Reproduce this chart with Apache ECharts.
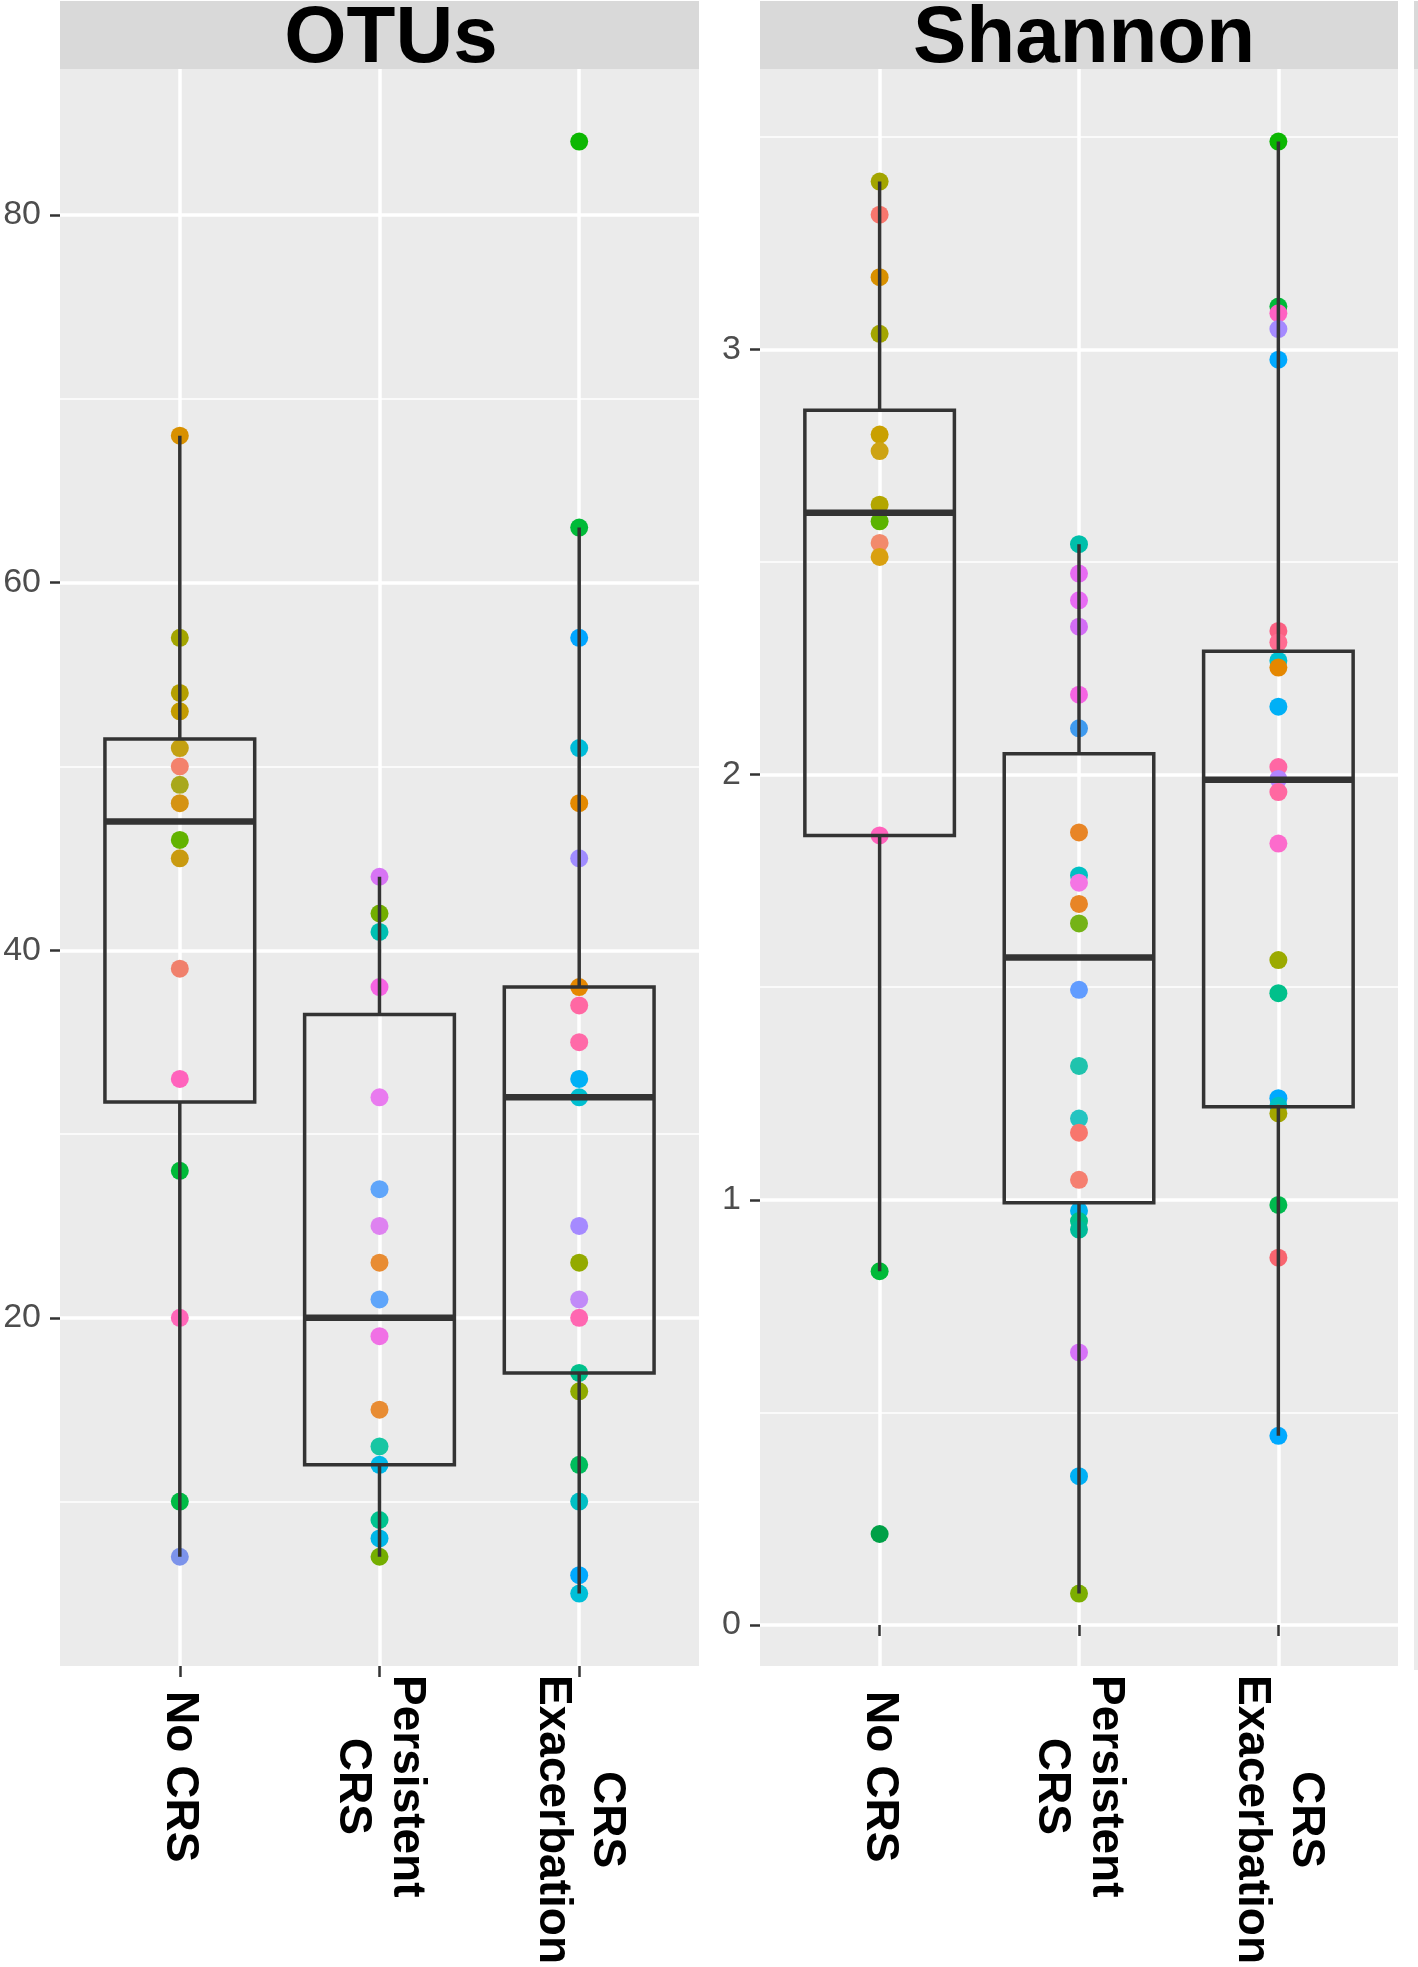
<!DOCTYPE html>
<html><head><meta charset="utf-8">
<script src="https://cdn.jsdelivr.net/npm/echarts@6/dist/echarts.min.js"></script>
<style>html,body{margin:0;padding:0;background:#fff}#chart{width:1418px;height:1967px}</style>
</head><body><div id="chart"></div>
<script>
// ---------- data ----------
const categories = ['No CRS', 'Persistent CRS', 'CRS Exacerbation'];
const categoryLabels = ['No CRS', 'Persistent\nCRS', 'CRS\nExacerbation'];
const panelTitles = ['OTUs', 'Shannon'];

const otusTicks = [20, 40, 60, 80];
const otusMinorTicks = [10, 30, 50, 70];
const shannonTicks = [0, 1, 2, 3];
const shannonMinorTicks = [0.5, 1.5, 2.5, 3.5];

const otusNoCRS = [68, 57, 54, 53, 51, 50, 49, 48, 46, 45, 39, 33, 28, 20, 10, 7];
const otusNoCRSColors = ['#D89000','#A3A500','#B49F00','#C39B00','#C3A012','#F3826C','#A8A81C','#D59312','#62B300','#C99A10','#F0806C','#FF62BC','#00BA38','#FF66B8','#00BB45','#7C93EA'];
const otusPersistent = [44, 42, 41, 38, 32, 27, 25, 23, 21, 19, 15, 13, 12, 9, 8, 7];
const otusPersistentColors = ['#D774F4','#72AE00','#00BFB2','#F564E3','#E97BEF','#5FA5FA','#DE82F0','#E88C33','#5FA5FA','#F070E5','#E88C33','#18C6A3','#00B8E8','#00C38F','#00B6E8','#74AE00'];
const otusExacerbation = [84, 63, 57, 51, 48, 45, 38, 37, 35, 33, 32, 25, 23, 21, 20, 17, 16, 12, 10, 6, 5];
const otusExacerbationColors = ['#0CB702','#00BA38','#00A5FF','#00BCD8','#E38900','#A08CFF','#E58700','#FF68A3','#FF6AA8','#00B0F6','#00BFD0','#A58AFF','#93AA00','#C18AF8','#FF67B1','#00C08B','#8FAA00','#00BD5C','#00BFC4','#00A9FF','#00BFD8'];

const shannonNoCRS = [3.395, 3.317, 3.170, 3.037, 2.800, 2.761, 2.635, 2.596, 2.545, 2.512, 1.857, 0.832, 0.214];
const shannonNoCRSColors = ['#A3A500','#F8766D','#D89000','#A3A500','#C9A000','#CDA314','#B3A600','#5BB300','#F28A6C','#D9A010','#FF62BC','#00BA38','#00A047'];
const shannonPersistent = [2.542, 2.473, 2.410, 2.348, 2.188, 2.109, 1.864, 1.763, 1.746, 1.696, 1.650, 1.494, 1.315, 1.191, 1.158, 1.047, 0.974, 0.950, 0.930, 0.641, 0.350, 0.074];
const shannonPersistentColors = ['#00BFAA','#E76BF3','#E76BF3','#D36DF5','#F564E3','#3F9AEE','#E88526','#00C0C4','#F475E4','#E88526','#74B316','#619CFF','#20C3AD','#23C4C1','#F8766D','#F57F70','#00B4EF','#00C08B','#00BB99','#D773F8','#00B0F6','#7CAE00'];
const shannonExacerbation = [3.489, 3.101, 3.085, 3.048, 2.976, 2.338, 2.311, 2.268, 2.252, 2.160, 2.018, 1.990, 1.959, 1.838, 1.564, 1.486, 1.239, 1.221, 1.203, 0.988, 0.864, 0.445];
const shannonExacerbationColors = ['#0CB702','#00BA38','#FF61C3','#A58AFF','#00A9FF','#FB6183','#FF6C91','#00C1D3','#E58700','#00B0F6','#FF67A4','#B385FF','#FF68A1','#FC6BCC','#9BAA00','#00C08B','#00A9FF','#00BFC4','#A3A500','#00BB4E','#F8656F','#00A9FF'];

// box stats: [lower whisker, Q1, median, Q3, upper whisker]
const otusBoxNoCRS = [7, 31.75, 47, 51.5, 68];
const otusBoxPersistent = [7, 12, 20, 36.5, 44];
const otusBoxExacerbation = [5, 17, 32, 38, 63];
const shannonBoxNoCRS = [0.832, 1.857, 2.616, 2.857, 3.395];
const shannonBoxPersistent = [0.074, 0.993, 1.570, 2.049, 2.542];
const shannonBoxExacerbation = [0.445, 1.219, 1.988, 2.290, 3.489];

// ---------- build ----------
const FONT = "'Liberation Sans', Arial, Helvetica, sans-serif";
const panels = [
  { title: panelTitles[0], left: 60, width: 639, ticks: otusTicks, minor: otusMinorTicks,
    groups: [[otusNoCRS, otusNoCRSColors], [otusPersistent, otusPersistentColors], [otusExacerbation, otusExacerbationColors]],
    boxes: [otusBoxNoCRS, otusBoxPersistent, otusBoxExacerbation], titleX: 391 },
  { title: panelTitles[1], left: 760, width: 638, ticks: shannonTicks, minor: shannonMinorTicks,
    groups: [[shannonNoCRS, shannonNoCRSColors], [shannonPersistent, shannonPersistentColors], [shannonExacerbation, shannonExacerbationColors]],
    boxes: [shannonBoxNoCRS, shannonBoxPersistent, shannonBoxExacerbation], titleX: 1084 }
];
const TOP = 69, HEIGHT = 1601;

const grid = [], xAxis = [], yAxis = [], series = [], graphic = [];
const labelRich = {
  c: { align: 'center', color: '#000', fontSize: 46, fontWeight: 'bold', fontFamily: FONT, lineHeight: 54 },
  n: { align: 'center', color: '#000', fontSize: 46, fontWeight: 'bold', fontFamily: FONT, lineHeight: 54, padding: [0, 0, 0, 16] }
};
panels.forEach((p, i) => {
  const all = [].concat(...p.groups.map(g => g[0]));
  const lo = Math.min(...all), hi = Math.max(...all), pad = (hi - lo) * 0.05;
  grid.push({ left: p.left, top: TOP, width: p.width, height: HEIGHT, show: true,
    backgroundColor: '#EBEBEB', borderWidth: 0 });
  xAxis.push({ type: 'value', gridIndex: i, min: 0.4, max: 3.6,
    axisLine: { show: false },
    axisTick: { show: true, customValues: [1, 2, 3], length: 11, lineStyle: { color: '#333', width: 2.5 } },
    splitLine: { show: true, lineStyle: { color: '#FFFFFF', width: 3.5 } },
    axisLabel: { show: true, customValues: [1, 2, 3], rotate: -90, margin: 9,
      color: '#000', fontSize: 46, fontWeight: 'bold', fontFamily: FONT, lineHeight: 54,
      formatter: v => {
        const k = Math.round(v) - 1;
        const tag = k === 0 ? 'n' : 'c';
        return categoryLabels[k].split('\n').map(s => '{' + tag + '|' + s + '}').join('\n');
      },
      rich: labelRich }
  });
  yAxis.push({ type: 'value', gridIndex: i, min: lo - pad, max: hi + pad,
    axisLine: { show: false },
    axisTick: { show: true, customValues: p.ticks, length: 10, lineStyle: { color: '#333', width: 2.5 } },
    axisLabel: { show: true, customValues: p.ticks, margin: 19, color: '#4D4D4D', fontSize: 34, fontFamily: FONT },
    splitLine: { show: true, lineStyle: { color: '#FFFFFF', width: 3.5 } }
  });
  yAxis.push({ type: 'value', gridIndex: i, min: lo - pad, max: hi + pad,
    axisLine: { show: false },
    axisTick: { show: false, customValues: p.minor },
    axisLabel: { show: false, customValues: p.minor },
    splitLine: { show: true, lineStyle: { color: '#FFFFFF', width: 1.6 } }
  });
  const pts = [];
  p.groups.forEach((g, k) => {
    g[0].forEach((v, j) => pts.push({ value: [k + 1, v], itemStyle: { color: g[1][j] } }));
  });
  series.push({ type: 'scatter', xAxisIndex: i, yAxisIndex: 2 * i, data: pts,
    symbol: 'circle', symbolSize: 18, z: 3, silent: true, itemStyle: { opacity: 1 } });
  series.push({ type: 'custom', xAxisIndex: i, yAxisIndex: 2 * i, z: 4, silent: true,
    data: p.boxes.map((b, k) => [k + 1].concat(b)),
    renderItem: (params, api) => {
      const x = api.value(0);
      const pLo = api.coord([x, api.value(1)]), pQ1 = api.coord([x, api.value(2)]),
            pMed = api.coord([x, api.value(3)]), pQ3 = api.coord([x, api.value(4)]),
            pHi = api.coord([x, api.value(5)]);
      const half = api.size([0.75, 0])[0] / 2;
      const st = { stroke: '#333333', lineWidth: 3.5, fill: null };
      return { type: 'group', children: [
        { type: 'line', shape: { x1: pHi[0], y1: pHi[1], x2: pQ3[0], y2: pQ3[1] }, style: st },
        { type: 'line', shape: { x1: pQ1[0], y1: pQ1[1], x2: pLo[0], y2: pLo[1] }, style: st },
        { type: 'rect', shape: { x: pQ3[0] - half, y: pQ3[1], width: 2 * half, height: pQ1[1] - pQ3[1] }, style: st },
        { type: 'line', shape: { x1: pMed[0] - half, y1: pMed[1], x2: pMed[0] + half, y2: pMed[1] },
          style: { stroke: '#333333', lineWidth: 6.5 } }
      ]};
    }
  });
  graphic.push({ type: 'rect', shape: { x: p.left, y: 1, width: p.width, height: TOP - 1 }, style: { fill: '#D9D9D9' }, z: -1 });
  graphic.push({ type: 'text', x: p.titleX, y: 40, z: 10,
    style: { text: p.title, fill: '#000', font: "bold 80px " + FONT, textAlign: 'center', textVerticalAlign: 'middle', align: 'center', verticalAlign: 'middle' } });
});
// sliver of a neighbouring facet at the right edge
graphic.push({ type: 'rect', shape: { x: 1414, y: 1, width: 4, height: TOP - 1 }, style: { fill: '#D9D9D9' } });
graphic.push({ type: 'rect', shape: { x: 1414, y: TOP, width: 4, height: HEIGHT }, style: { fill: '#EBEBEB' } });

const chart = echarts.init(document.getElementById('chart'), null, { renderer: 'canvas' });
chart.setOption({ animation: false, backgroundColor: '#FFFFFF', grid, xAxis, yAxis, series, graphic });
</script></body></html>
